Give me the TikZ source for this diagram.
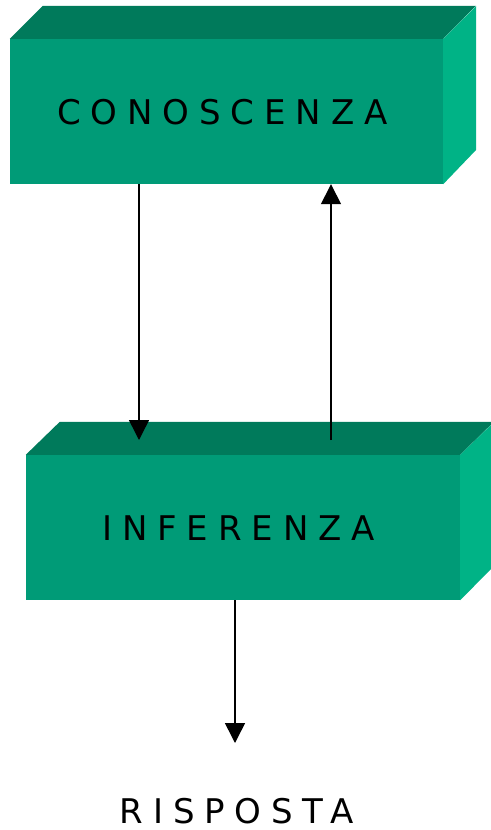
\documentclass[tikz,border=0pt]{standalone}
\usepackage{fontspec}
\setmainfont{DejaVu Sans}
\newfontfamily\spacedfont[LetterSpace=29]{DejaVu Sans}
\usetikzlibrary{arrows.meta}
\definecolor{frontc}{HTML}{009B77}
\definecolor{topc}{HTML}{007A5B}
\definecolor{sidec}{HTML}{00B386}
\begin{document}
\begin{tikzpicture}[x=1pt,y=-1pt,
  box/.style={fill=frontc, minimum width=433pt, minimum height=145pt, inner sep=0pt},
  lbl/.style={font=\spacedfont\fontsize{34}{40}\selectfont, inner sep=0pt},
  arr/.style={line width=1.5pt, -{Triangle[width=20pt,length=20pt]}}]
\useasboundingbox (0,0) rectangle (490,830);
% top box
\node[box] (k) at (226.5,111.5) {};
\fill[topc] (k.north west) -- ++(33,-33) -- ++(433,0) -- (k.north east) -- cycle;
\fill[sidec] (k.north east) -- ++(33,-33) -- ++(0,144) -- (k.south east) -- cycle;
\node[lbl] (kt) at (222.5,112) {CONOSCENZA};
% bottom box
\node[box, minimum width=434pt] (i) at (243,527.5) {};
\fill[topc] (i.north west) -- ++(34,-33) -- ++(434,0) -- (i.north east) -- cycle;
\fill[sidec] (i.north east) -- ++(34,-33) -- ++(0,144) -- (i.south east) -- cycle;
\node[lbl] (it) at (238.5,528) {INFERENZA};
% answer
\node[lbl] (r) at (237,811) {RISPOSTA};
% connectors
\coordinate (inA) at (139,440);
\coordinate (outB) at (331,440);
\coordinate (endR) at (235,743);
\draw[arr] (k.south -| inA) -- (inA);
\draw[arr] (outB) -- (outB |- k.south);
\draw[arr] (i.south -| endR) -- (endR);
\end{tikzpicture}
\end{document}
